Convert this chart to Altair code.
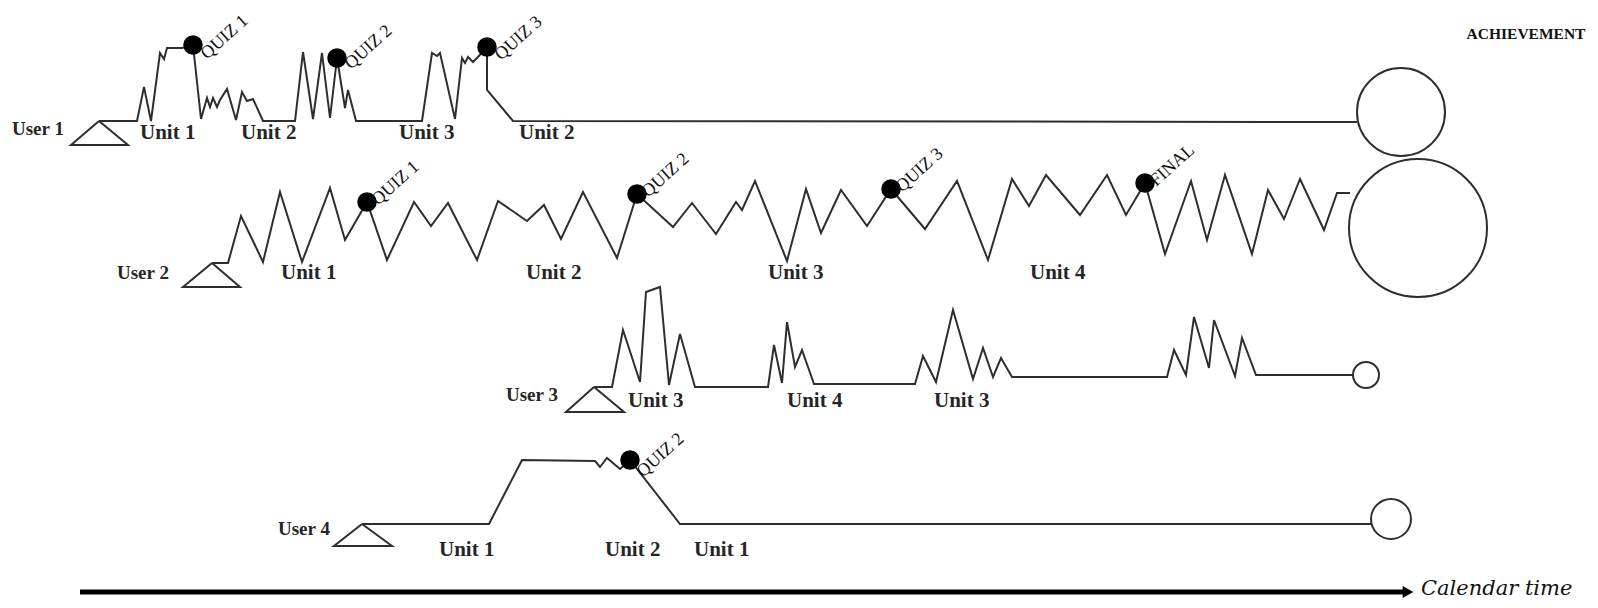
import altair as alt
import pandas as pd

# ---------------- data (page pixel frame) ----------------
user1_x = [99, 137, 144, 151, 160, 164, 167, 182, 193, 201, 207, 210, 213, 217, 220, 227, 236, 242, 247, 253, 263,
           295, 303, 313, 322, 330, 337, 345, 348, 356, 422, 432, 437, 440, 455, 462, 465, 468, 473, 477, 487, 487, 513, 1357]
user1_y = [121, 121, 87, 121, 53, 59, 48, 48, 45, 119, 98, 107, 98, 107, 100, 89, 120, 92, 101, 99, 121,
           121, 52, 119, 53, 118, 58, 108, 90, 121, 121, 53, 56, 53, 119, 58, 63, 57, 62, 58, 47, 90, 121, 122]

user2_x = [212, 228, 241, 263, 280, 302, 330, 345, 367, 387, 414, 431, 448, 477, 498, 527, 544, 561, 583, 617, 637,
           673, 692, 716, 736, 742, 755, 787, 806, 821, 841, 867, 891, 925, 957, 988, 1012, 1029, 1046, 1080, 1107,
           1126, 1145, 1165, 1191, 1207, 1225, 1252, 1268, 1284, 1300, 1324, 1337, 1350]
user2_y = [263, 263, 216, 262, 192, 262, 188, 240, 202, 260, 202, 226, 203, 260, 201, 221, 205, 239, 192, 258, 194,
           227, 203, 234, 202, 210, 181, 261, 189, 233, 190, 226, 189, 229, 181, 260, 179, 206, 175, 215, 175,
           215, 183, 254, 181, 240, 175, 254, 190, 219, 179, 230, 193, 193]

user3_x = [594, 612, 623, 640, 646, 660, 669, 680, 695, 768, 774, 782, 787, 795, 802, 814, 915, 923, 936, 953, 973,
           983, 993, 1001, 1012, 1167, 1174, 1186, 1194, 1209, 1214, 1235, 1242, 1256, 1353]
user3_y = [387, 387, 330, 382, 292, 287, 385, 334, 387, 387, 345, 383, 322, 367, 350, 384, 384, 356, 382, 310, 379,
           348, 377, 358, 377, 377, 350, 375, 317, 368, 320, 376, 338, 375, 375]

user4_x = [362, 489, 522, 595, 600, 607, 620, 630, 680, 1371]
user4_y = [524, 524, 460, 461, 467, 458, 469, 460, 524, 524]

# start triangles (apex, base left, base right)
tri_user = ["User 1", "User 2", "User 3", "User 4"]
tri_apex_x = [99, 212, 594, 362]
tri_apex_y = [121, 263, 387, 524]
tri_base_l = [71, 183, 566, 334]
tri_base_r = [128, 240, 624, 392]
tri_base_y = [145, 287, 412, 546]

# achievement circles (centre and radius)
ach_x = [1401, 1418, 1366, 1391]
ach_y = [112, 228, 375, 519]
ach_r = [44, 69, 13, 20]

# quiz markers and labels
quiz_x = [193, 337, 487, 367, 637, 891, 1145, 630]
quiz_y = [45, 58, 47, 202, 194, 189, 183, 460]
quiz_text = ["QUIZ 1", "QUIZ 2", "QUIZ 3", "QUIZ 1", "QUIZ 2", "QUIZ 3", "FINAL", "QUIZ 2"]
quiz_lx = [207, 351, 501, 378, 648, 902, 1156, 643]
quiz_ly = [60, 70, 61, 206, 198, 193, 187, 478]

# user / unit labels
lab_text = ["User 1", "Unit 1", "Unit 2", "Unit 3", "Unit 2",
            "User 2", "Unit 1", "Unit 2", "Unit 3", "Unit 4",
            "User 3", "Unit 3", "Unit 4", "Unit 3",
            "User 4", "Unit 1", "Unit 2", "Unit 1"]
lab_x = [12, 140, 241, 399, 519,
         117, 281, 526, 768, 1030,
         506, 628, 787, 934,
         278, 439, 605, 694]
lab_y = [129, 133, 133, 133, 133,
         273, 273, 273, 273, 273,
         395, 401, 401, 401,
         529, 550, 550, 550]

title_text = ["ACHIEVEMENT"]
title_x = [1526]
title_y = [34]

arrow_x = [80]
arrow_x2 = [1408]
arrow_y = [592]
time_text = ["Calendar time"]
time_x = [1421]
time_y = [589]

# ---------------- tables ----------------
rows = []
for name, xs, ys in [("u1", user1_x, user1_y), ("u2", user2_x, user2_y),
                     ("u3", user3_x, user3_y), ("u4", user4_x, user4_y)]:
    for i, (a, b) in enumerate(zip(xs, ys)):
        rows.append({"x": a, "y": b, "s": name, "o": i})
for k, u in enumerate(tri_user):
    pts = [(tri_apex_x[k], tri_apex_y[k]), (tri_base_l[k], tri_base_y[k]),
           (tri_base_r[k], tri_base_y[k]), (tri_apex_x[k], tri_apex_y[k])]
    for i, (a, b) in enumerate(pts):
        rows.append({"x": a, "y": b, "s": "tri" + u, "o": i})
lines_df = pd.DataFrame(rows)

# vega symbol size is the area of the bounding square: (2r)^2
circ_df = pd.DataFrame({"x": ach_x, "y": ach_y, "size": [(2 * r) ** 2 for r in ach_r]})
quiz_df = pd.DataFrame({"x": quiz_x, "y": quiz_y})
qlab_df = pd.DataFrame({"x": quiz_lx, "y": quiz_ly, "t": quiz_text})
lab_df = pd.DataFrame({"x": lab_x, "y": lab_y, "t": lab_text})
title_df = pd.DataFrame({"x": title_x, "y": title_y, "t": title_text})
arrow_df = pd.DataFrame({"x": arrow_x, "x2": arrow_x2, "y": arrow_y})
head_df = pd.DataFrame({"x": arrow_x2, "y": arrow_y})
time_df = pd.DataFrame({"x": time_x, "y": time_y, "t": time_text})

XS = alt.Scale(domain=[8, 1590], nice=False, zero=False)
YS = alt.Scale(domain=[8, 600], nice=False, zero=False, reverse=True)


def X(f="x"):
    return alt.X(f + ":Q", scale=XS, axis=None)


def Y(f="y"):
    return alt.Y(f + ":Q", scale=YS, axis=None)


INK = "#2e2e2e"

lines = alt.Chart(lines_df).mark_line(color=INK, strokeWidth=2, strokeJoin="miter").encode(
    x=X(), y=Y(), detail="s:N", order="o:Q")

circles = alt.Chart(circ_df).mark_point(shape="circle", filled=False, color=INK, strokeWidth=2,
                                        opacity=1).encode(
    x=X(), y=Y(), size=alt.Size("size:Q", scale=None, legend=None))

dots = alt.Chart(quiz_df).mark_point(shape="circle", filled=True, color="#000000", size=380,
                                     opacity=1).encode(x=X(), y=Y())

qlabels = alt.Chart(qlab_df).mark_text(font="Liberation Serif", fontSize=18, angle=318, align="left",
                                       baseline="alphabetic", color="#111111").encode(
    x=X(), y=Y(), text="t:N")

unit_labels = alt.Chart(lab_df).transform_filter(
    "indexof(datum.t, 'Unit') == 0"
).mark_text(font="Liberation Serif", fontSize=21, fontWeight="bold", align="left",
            baseline="middle", color="#262626").encode(x=X(), y=Y(), text="t:N")

user_labels = alt.Chart(lab_df).transform_filter(
    "indexof(datum.t, 'User') == 0"
).mark_text(font="Liberation Serif", fontSize=19, fontWeight="bold", align="left",
            baseline="middle", color="#262626").encode(x=X(), y=Y(), text="t:N")

title = alt.Chart(title_df).mark_text(font="Liberation Serif", fontSize=15.5, fontWeight="bold", align="center",
                                      baseline="middle", color="#111111").encode(
    x=X(), y=Y(), text="t:N")

arrow = alt.Chart(arrow_df).mark_rule(color="#000000", strokeWidth=5).encode(
    x=X(), x2="x2:Q", y=Y())

head = alt.Chart(head_df).mark_point(shape="triangle-right", filled=True, color="#000000", size=150,
                                     opacity=1).encode(x=X(), y=Y())

time_lab = alt.Chart(time_df).mark_text(font="DejaVu Serif", fontSize=21, fontStyle="italic", align="left",
                                        baseline="middle", color="#111111").encode(
    x=X(), y=Y(), text="t:N")

chart = alt.layer(lines, circles, dots, qlabels, unit_labels, user_labels, title, arrow, head,
                  time_lab).properties(
    width=1582, height=592, padding=0, autosize=alt.AutoSizeParams(type="none"),
    background="white"
).configure_view(stroke=None)

chart.save("out.html", embed_options={"renderer": "svg", "actions": False})
